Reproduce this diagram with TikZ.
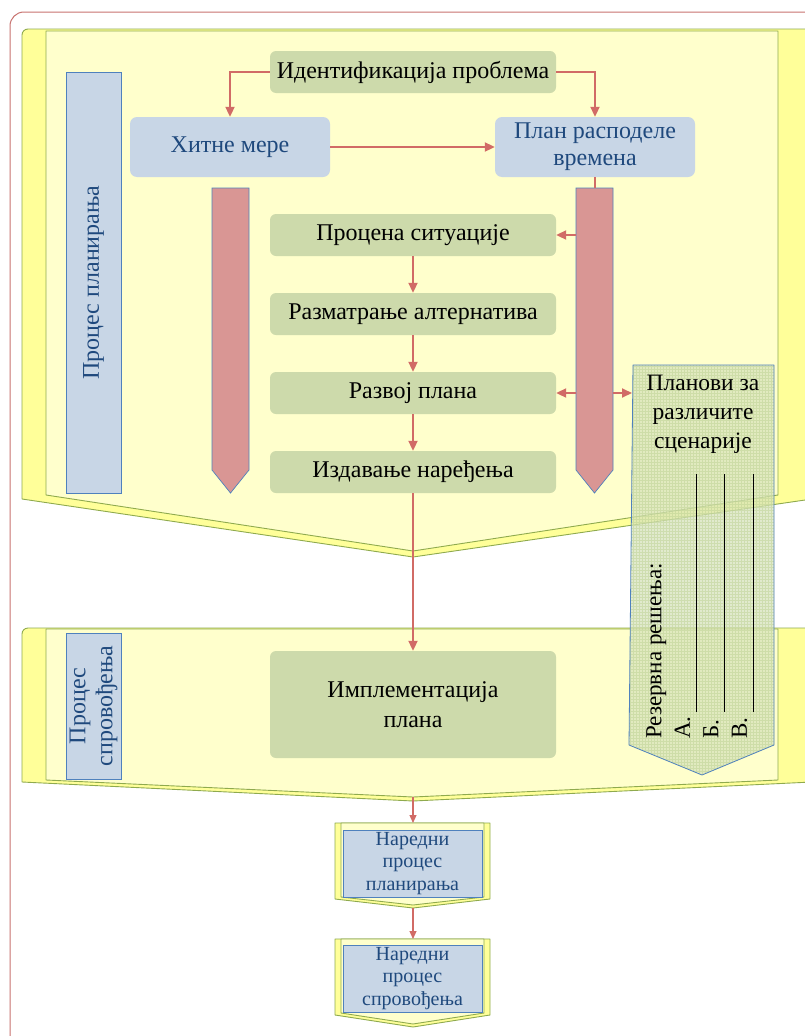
\documentclass[tikz,border=0pt]{standalone}
\usepackage{fontspec}
\setmainfont{Liberation Serif}
\usetikzlibrary{arrows.meta}
\definecolor{bodyY}{HTML}{FFFFCC}
\definecolor{stripY}{HTML}{FFFF99}
\definecolor{oliveE}{HTML}{8FAA4E}
\definecolor{boxG}{HTML}{CDDAAB}
\definecolor{boxB}{HTML}{C8D6E6}
\definecolor{txtB}{HTML}{1F497D}
\definecolor{redA}{HTML}{D99694}
\definecolor{connC}{HTML}{D16B66}
\definecolor{edgeB}{HTML}{4F81BD}
\definecolor{frameR}{HTML}{C87370}
\definecolor{gridF}{HTML}{D6E3BA}
\definecolor{gridL}{HTML}{BDD192}
\tikzset{
  banback/.style={fill=stripY, draw=oliveE, line width=0.9pt, line join=round},
  banbody/.style={fill=bodyY, draw=oliveE, line width=0.9pt, line join=round},
  gbox/.style={fill=boxG, rounded corners=6pt, minimum width=286pt, minimum height=42pt, inner sep=0pt, text=black, align=center, font=\fontsize{24}{29}\selectfont},
  bbox/.style={fill=boxB, rounded corners=7pt, minimum width=200pt, minimum height=60pt, inner sep=0pt, text=txtB, align=center, font=\fontsize{24}{27}\selectfont},
  labbox/.style={fill=boxB, draw=edgeB, line width=0.7pt, inner sep=0pt, text=txtB, align=center, font=\fontsize{24}{27}\selectfont},
  nextbox/.style={fill=boxB, draw=edgeB, line width=0.7pt, minimum width=139pt, minimum height=67pt, inner sep=0pt, text=txtB, align=center, font=\fontsize{20}{22.5}\selectfont},
  redarrow/.style={fill=redA, draw=edgeB, line width=0.7pt},
  conn/.style={draw=connC, line width=2pt, -{Triangle[length=10pt,width=9pt]}},
  thinconn/.style={draw=connC, line width=1.1pt, -{Triangle[length=8pt,width=7pt]}},
}
\begin{document}
\begin{tikzpicture}[x=1pt,y=-1pt]
\useasboundingbox (0,0) rectangle (805,1036);
\clip (0,0) rectangle (805,1036);
\fill[white] (0,0) rectangle (805,1036);
% outer frame
\draw[frameR, line width=1pt, rounded corners=14pt] (10,12) rectangle (840,1070);

% top banner
\draw[banback] (22,499) [rounded corners=6pt] -- (22,29) -- (60,29) [sharp corners] -- (780,29) [rounded corners=6pt] -- (812,29) [sharp corners] -- (812,499) -- (413,557) -- cycle;
\draw[banbody] (46,31) -- (778,31) -- (778,495) -- (413,551) -- (46,495) -- cycle;

% second banner
\draw[banback] (22,782) [rounded corners=6pt] -- (22,628) -- (60,628) [sharp corners] -- (780,628) [rounded corners=6pt] -- (812,628) [sharp corners] -- (812,782) -- (413,801) -- cycle;
\draw[banbody] (46,629) -- (778,629) -- (778,780) -- (413,797) -- (46,780) -- cycle;

% labels
\node[labbox, rotate=90, minimum width=421pt, minimum height=55pt] (lab1) at (93.5,282.5) {Процес планирања};
\node[labbox, rotate=90, minimum width=146pt, minimum height=55pt] (lab2) at (93.5,706) {Процес\\спровођења};

% red arrows
\draw[redarrow] (212,188) -- (249,188) -- (249,470) -- (230.5,493) -- (212,470) -- cycle;
\draw[redarrow] (576,188) -- (613,188) -- (613,470) -- (594.5,493) -- (576,470) -- cycle;
\coordinate (rtop) at (595,188);
\coordinate (rl1) at (576,235);
\coordinate (rl2) at (576,393);
\coordinate (rr2) at (613,393);

% top nodes
\node[gbox] (ident) at (413,72) {Идентификација проблема};
\node[bbox] (hitne) at (230,147) {Хитне мере};
\node[bbox] (plan) at (595,147) {План расподеле\\времена};

% steps
\node[gbox] (proc) at (413,235) {Процена ситуације};
\node[gbox] (razm) at (413,314) {Разматрање алтернатива};
\node[gbox] (razv) at (413,393) {Развој плана};
\node[gbox] (izd) at (413,472) {Издавање наређења};
\node[gbox, minimum height=107pt, font=\fontsize{24}{30}\selectfont] (impl) at (413,704.5) {Имплементација\\плана};

% connectors
\draw[conn] (ident.west) -| (hitne.north);
\draw[conn] (ident.east) -| (plan.north);
\draw[conn] (hitne.east) -- (plan.west);
\draw[draw=connC, line width=2pt] (plan.south) -- (rtop);
\draw[conn] (rl1) -- (proc.east);
\draw[conn] (rl2) -- (razv.east);
\draw[conn] (proc.south) -- (razm.north);
\draw[conn] (razm.south) -- (razv.north);
\draw[conn] (razv.south) -- (izd.north);
\draw[conn] (izd.south) -- (impl.north);

% small banners
\draw[banback] (335,823) -- (490,823) -- (490,899) -- (413,908) -- (335,899) -- cycle;
\draw[banbody] (341,823) -- (484,823) -- (484,897) -- (413,905) -- (341,897) -- cycle;
\node[nextbox] (next1) at (412.5,863.5) {Наредни\\процес\\планирања};
\draw[banback] (335,939) -- (490,939) -- (490,1015) -- (413,1027) -- (335,1015) -- cycle;
\draw[banbody] (341,939) -- (484,939) -- (484,1013) -- (413,1024) -- (341,1013) -- cycle;
\node[nextbox] (next2) at (412.5,978.5) {Наредни\\процес\\спровођења};
\coordinate (b2tip) at (413,797);
\coordinate (n1tip) at (413,908);
\coordinate (n2top) at (413,939);
\coordinate (n1top) at (413,823);
\draw[thinconn] (b2tip) -- (n1top);
\draw[thinconn] (n1tip) -- (n2top);

% scenarios box
\begin{scope}
\clip (633,365) -- (774,365) -- (774,745) -- (702,775) -- (629,745) -- cycle;
\fill[gridF, opacity=0.72] (620,360) rectangle (780,780);
\draw[gridL, line width=0.25pt, opacity=0.5, step=3pt] (620,360) grid (780,780);
\end{scope}
\draw[edgeB, line width=0.8pt, line join=round] (633,365) -- (774,365) -- (774,745) -- (702,775) -- (629,745) -- cycle;
\node[align=center, inner sep=0pt, font=\fontsize{23.5}{29}\selectfont] (scen) at (703,414) {Планови за\\различите\\сценарије};
\coordinate (scl) at (632,393);
\draw[conn] (rr2) -- (scl);
\node[rotate=90, anchor=north west, align=left, inner sep=0pt, font=\fontsize{23}{28.5}\selectfont] (rez) at (646,739) {Резервна решења:\\А.\\Б.\\В.};
\draw[black, line width=0.8pt] (696,474) -- (696,712);
\draw[black, line width=0.8pt] (724,474) -- (724,712);
\draw[black, line width=0.8pt] (753,474) -- (753,712);
\end{tikzpicture}
\end{document}
